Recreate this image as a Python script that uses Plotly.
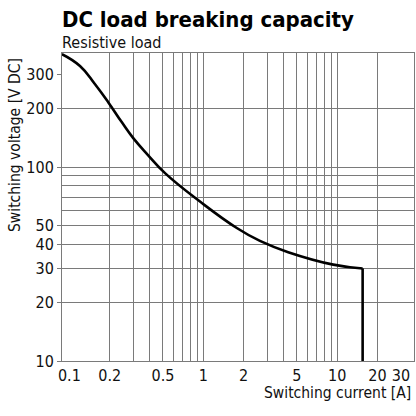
import plotly.graph_objects as go

# curve (current in A, voltage in V DC)
current = [0.088, 0.12, 0.155, 0.195, 0.246, 0.3, 0.388, 0.518, 0.956,
           1.78, 2.65, 4.31, 9.35, 15.5]
voltage = [382, 332, 268, 216, 170.5, 141, 115, 93, 66,
           48.5, 41.6, 36.4, 31.4, 30]
# vertical cut-off at the max current
cutoff_current = [15.5, 15.5]
cutoff_voltage = [30, 10]

x_ticks = [0.1, 0.2, 0.5, 1, 2, 5, 10, 20, 30]
x_grid = [0.2, 0.3, 0.4, 0.5, 0.6, 0.7, 0.8, 0.9, 1, 2, 3, 4, 5, 6, 7, 8, 9, 10, 20]
y_ticks = [10, 20, 30, 40, 50, 100, 200, 300]
y_grid = [20, 30, 40, 50, 60, 70, 80, 90, 100, 200]

FONT = "DejaVu Sans Condensed, Liberation Sans Narrow, Arial Narrow, sans-serif"
GRID = "#7a7a7a"

fig = go.Figure()
fig.add_trace(
    go.Scatter(
        x=current,
        y=voltage,
        mode="lines",
        line=dict(color="black", width=2.6, shape="spline", smoothing=1.3),
        hoverinfo="none",
    )
)
fig.add_trace(
    go.Scatter(
        x=cutoff_current,
        y=cutoff_voltage,
        mode="lines",
        line=dict(color="black", width=2.6),
        hoverinfo="none",
    )
)

fig.update_layout(
    width=416,
    height=416,
    showlegend=False,
    plot_bgcolor="white",
    paper_bgcolor="white",
    margin=dict(l=62, r=2, t=53, b=55, pad=0),
    font=dict(family=FONT, size=16, color="#111111"),
    xaxis=dict(
        type="log",
        range=[-1.055, 1.574],
        tickmode="array",
        tickvals=x_ticks,
        ticktext=[str(v) for v in x_ticks],
        showgrid=False,
        showline=True,
        mirror=True,
        linecolor=GRID,
        linewidth=1,
        ticks="",
        zeroline=False,
        minor=dict(tickmode="array", tickvals=x_grid, showgrid=True,
                   gridcolor=GRID, gridwidth=1, ticks=""),
    ),
    yaxis=dict(
        type="log",
        range=[1, 2.588],
        tickmode="array",
        tickvals=y_ticks,
        ticktext=[str(v) for v in y_ticks],
        showgrid=False,
        showline=True,
        mirror=True,
        linecolor=GRID,
        linewidth=1,
        ticks="outside",
        ticklen=4,
        tickcolor=GRID,
        zeroline=False,
        minor=dict(tickmode="array", tickvals=y_grid, showgrid=True,
                   gridcolor=GRID, gridwidth=1, ticks=""),
    ),
    annotations=[
        dict(text="<b>DC load breaking capacity</b>", x=0, y=1,
             xref="paper", yref="paper", xanchor="left", yanchor="bottom",
             xshift=-2, yshift=19, showarrow=False,
             font=dict(size=22, color="black")),
        dict(text="Resistive load", x=0, y=1, xref="paper", yref="paper",
             xanchor="left", yanchor="bottom", xshift=-2, yshift=-1,
             showarrow=False, font=dict(size=16)),
        dict(text="Switching voltage [V DC]", x=0, y=1, xref="paper", yref="paper",
             xanchor="center", yanchor="top", xshift=-47, yshift=-3, textangle=-90,
             showarrow=False, font=dict(size=15.5)),
        dict(text="Switching current [A]", x=1, y=0, xref="paper", yref="paper",
             xanchor="right", yanchor="top", xshift=-1, yshift=-21,
             showarrow=False, font=dict(size=15.5)),
    ],
)

# page body has a default 8px margin; drop it so the 416px figure fills the window
fig.write_html(
    "out.html",
    config={"displayModeBar": False},
    post_script="document.body.style.margin='0';",
)
